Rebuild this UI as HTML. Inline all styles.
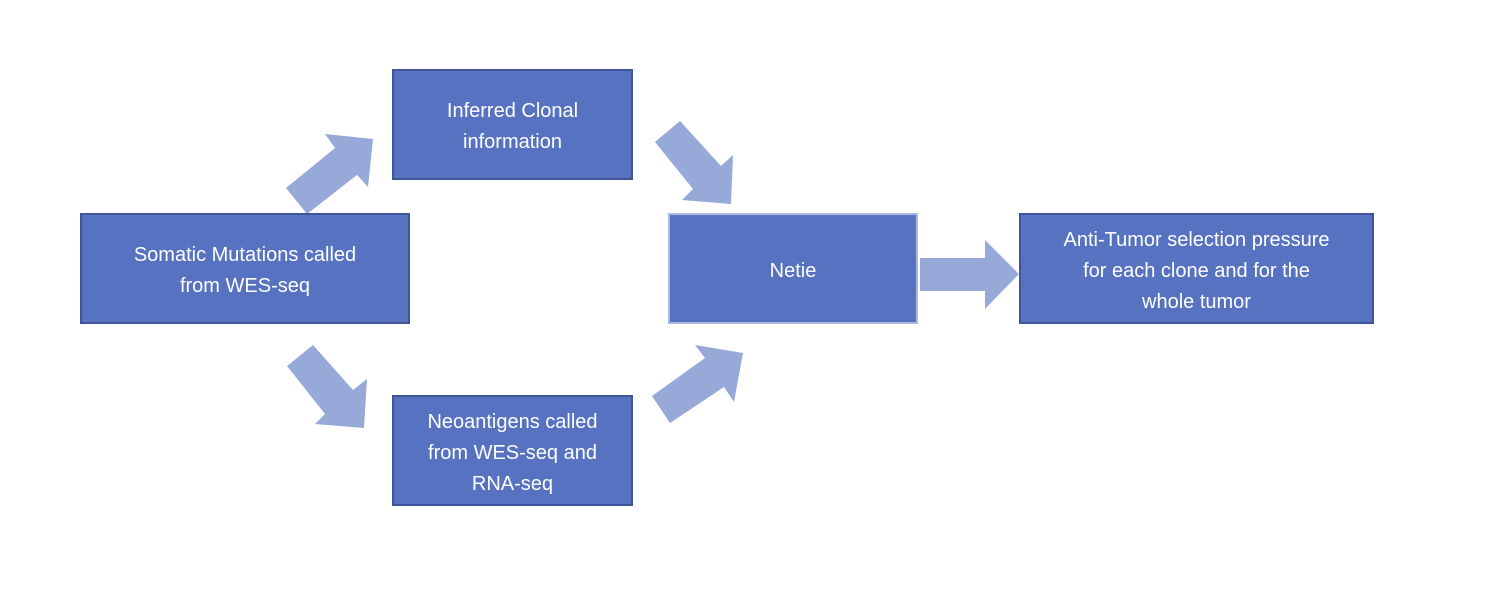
<!DOCTYPE html>
<html><head><style>
body{margin:0;background:#fff;width:1500px;height:600px;position:relative;overflow:hidden;font-family:"Liberation Sans",sans-serif}
.b{position:absolute;box-sizing:border-box;background:#5672c0;border:2px solid #3f5597;color:#fff;display:flex;align-items:center;justify-content:center;text-align:center;font-size:20px;line-height:31px;padding-top:5px}
</style></head><body>
<svg width="1500" height="600" style="position:absolute;left:0;top:0">
<g fill="#97a9d8">
<polygon points="286,188 335,148 325,134 373,139 368,187 357,175 307,214"/>
<polygon points="655,142 680,121 721,166 733,155 731,204 682,200 693,189"/>
<polygon points="287,366 313,345 353,390 367,379 364,428 315,424 325,414"/>
<polygon points="652,396 670,423 724,387 734,402 743,353 695,345 705,358"/>
<polygon points="920,258 985,258 985,240 1019,274 985,309 985,291 920,291"/>
</g></svg>
<div class="b" style="left:392px;top:69px;width:241px;height:111px">Inferred Clonal<br>information</div>
<div class="b" style="left:80px;top:213px;width:330px;height:111px">Somatic Mutations called<br>from WES-seq</div>
<div class="b" style="left:392px;top:395px;width:241px;height:111px">Neoantigens called<br>from WES-seq and<br>RNA-seq</div>
<div class="b" style="left:668px;top:213px;width:250px;height:111px;border-color:#a9b9e2">Netie</div>
<div class="b" style="left:1019px;top:213px;width:355px;height:111px">Anti-Tumor selection pressure<br>for each clone and for the<br>whole tumor</div>
</body></html>
